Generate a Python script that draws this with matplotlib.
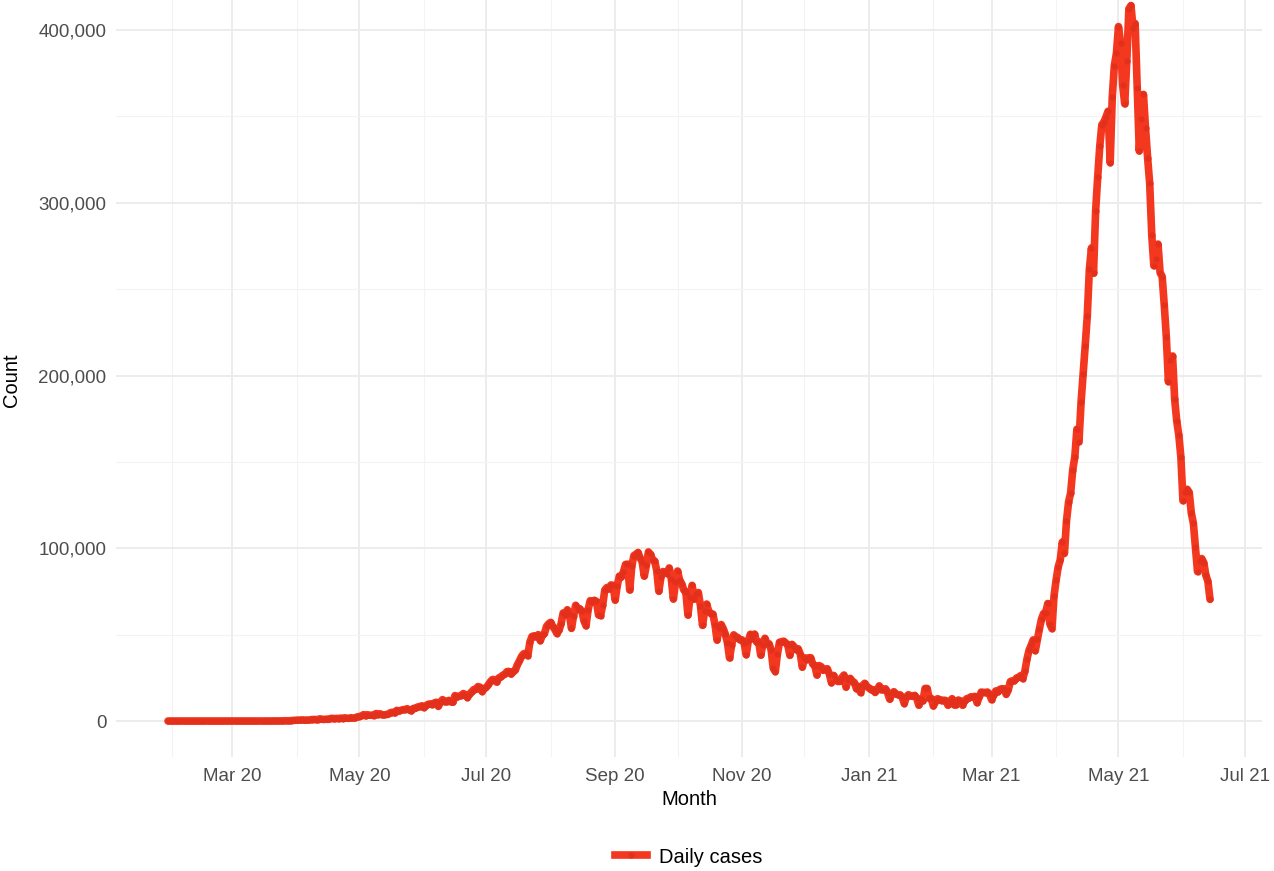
import matplotlib
matplotlib.use("Agg")
import matplotlib.pyplot as plt
import matplotlib.dates as mdates
from matplotlib.ticker import FuncFormatter, MultipleLocator
from matplotlib.lines import Line2D
import numpy as np
import pandas as pd

plt.rcParams["font.family"] = ["Liberation Sans", "DejaVu Sans"]

start_date = "2020-01-30"
jan20 = [1, 0]
feb20 = [0, 1, 1] + [0] * 26
mar20 = [0, 2, 1, 22, 2, 1, 3, 5, 9, 15, 8, 10, 10, 11, 10, 14, 19, 27, 58, 78,
         69, 94, 74, 86, 73, 153, 136, 120, 187, 309, 424]
apr20 = [486, 560, 579, 609, 484, 573, 565, 813, 871, 854, 758, 1243, 1031, 886, 1061,
         922, 1371, 1580, 1239, 1537, 1292, 1667, 1408, 1835, 1607, 1568, 1902, 1705, 1801, 2396]
may20 = [2564, 2952, 3656, 2971, 3602, 3344, 3339, 3175, 4311, 3592, 4163, 3607, 3524, 3763,
         3942, 4864, 5050, 4630, 6147, 5611, 6198, 6568, 6629, 7113, 6414, 5843, 7293, 7300,
         8105, 8336, 8782]
jun20 = [7761, 8821, 9633, 9889, 9471, 10438, 10864, 8442, 10956, 12375, 11128, 11157, 11929,
         11087, 10835, 14740, 13826, 14406, 14740, 15918, 15151, 13560, 15656, 16870, 18205,
         18255, 19906, 19620, 17066, 18653]
jul20 = [19428, 20903, 22721, 24018, 23942, 22500, 24880, 25571, 26506, 27114, 28606, 28701,
         27114, 28498, 29429, 32607, 34820, 37411, 38902, 39170, 37740, 45720, 48916, 49310,
         48661, 49981, 46484, 49632, 50600, 54750, 56282]
aug20 = [57118, 54735, 52972, 50629, 52509, 56282, 62538, 61537, 64399, 62064, 53601, 60963,
         66999, 64553, 65002, 63490, 57981, 55079, 64531, 69652, 68898, 69878, 69239, 61408,
         60975, 67151, 75760, 77266, 76472, 78761, 78512]
sep20 = [69921, 78357, 83883, 83341, 86432, 90632, 90802, 75809, 89706, 95735, 96551, 97570,
         94372, 92071, 83809, 90123, 97894, 96424, 93337, 92605, 86961, 75083, 83347, 86508,
         86052, 85362, 88600, 82170, 70589, 80472]
oct20 = [86821, 81484, 79476, 75829, 74442, 61267, 72049, 78524, 70496, 73272, 74383, 66732,
         55342, 63509, 67708, 63371, 62212, 61871, 55722, 46790, 54044, 55839, 53370, 50129,
         45149, 36470, 43893, 49881, 48648, 48268, 46963]
nov20 = [46964, 45231, 38310, 46254, 50210, 47638, 50356, 45674, 45903, 38073, 44281, 47905,
         44879, 44684, 41100, 30548, 28555, 38617, 45576, 45882, 46232, 45209, 44059, 37975,
         44376, 43082, 41322, 41810, 38772, 31118]
dec20 = [36604, 35551, 36595, 36652, 32981, 32080, 26567, 32080, 31521, 29398, 30006, 30254,
         27071, 22065, 26382, 24010, 22890, 22889, 25153, 26624, 19556, 23950, 24712, 23067,
         22273, 18732, 20021, 16432, 20549, 21821, 20035]
jan21 = [19079, 18177, 18179, 16505, 18088, 20346, 18139, 18222, 18645, 16311, 12584, 15968,
         16946, 15590, 15158, 15144, 13788, 10064, 13823, 15223, 14545, 14256, 14849, 13203,
         9102, 12689, 11666, 18855, 18855, 13083, 13052]
feb21 = [8635, 11039, 12899, 12408, 11713, 12059, 11831, 9110, 11067, 12923, 9309, 9309,
         12143, 11649, 9121, 11610, 12881, 13193, 13993, 13993, 14264, 10584, 13742, 16738,
         16577, 16488, 16752, 15510]
mar21 = [12286, 14989, 17407, 16838, 18327, 18711, 18599, 15388, 17921, 22854, 23285, 23285,
         24882, 25320, 26291, 24492, 28903, 35871, 40953, 43846, 46951, 40715, 47262, 53476,
         59118, 62258, 62714, 68020, 56211, 53480, 72330]
apr21 = [81466, 89129, 93249, 103558, 96982, 115736, 126789, 131968, 145384, 152879, 168912,
         161736, 184372, 200739, 217353, 234692, 261500, 273810, 259170, 295041, 314835,
         332730, 345147, 346786, 349691, 352991, 323144, 360960, 379257, 386452]
may21 = [401993, 392488, 368147, 357229, 382315, 412262, 414188, 401078, 403738, 366161,
         329942, 348421, 362727, 343144, 326098, 311170, 281386, 263533, 267334, 276070,
         259551, 257299, 240842, 222315, 196427, 208921, 211298, 186364, 173790, 165553, 152734]
jun21 = [127510, 132788, 134154, 132364, 120529, 114460, 100636, 86498, 92596, 94052, 91702,
         84332, 80834, 70421]

month_lists = [jan20, feb20, mar20, apr20, may20, jun20, jul20, aug20, sep20, oct20, nov20,
               dec20, jan21, feb21, mar21, apr21, may21, jun21]
month_lens = [2, 29, 31, 30, 31, 30, 31, 31, 30, 31, 30, 31, 31, 28, 31, 30, 31, 14]
for m, n in zip(month_lists, month_lens):
    assert len(m) == n, (len(m), n)

daily_cases = sum(month_lists, [])
dates = pd.date_range(start_date, periods=len(daily_cases), freq="D")

series_label = "Daily cases"
x_title = "Month"
y_title = "Count"

W, H = 1274, 871
fig = plt.figure(figsize=(W / 100, H / 100), dpi=100)
fig.patch.set_facecolor("white")

# Axes placement (pixel based)
left_px, right_px = 116, 1262
ymin, ymax = -20700, 434700
zero_px, per100k = 721, 172.75
bottom_px = zero_px - (ymin / 100000) * per100k
top_px = zero_px - (ymax / 100000) * per100k
ax = fig.add_axes([left_px / W, 1 - bottom_px / H, (right_px - left_px) / W,
                   (bottom_px - top_px) / H])

color = "#F4371F"
ax.plot(dates, daily_cases, color=color, lw=5.5, solid_joinstyle="round",
        solid_capstyle="round", zorder=3)
ax.plot(dates, daily_cases, linestyle="none", marker="o", ms=3.4, color="#E2301C",
        zorder=4)

xmin = pd.Timestamp("2020-01-05")
xmax = pd.Timestamp("2021-07-09")
ax.set_xlim(xmin, xmax)
ax.set_ylim(ymin, ymax)

ax.xaxis.set_major_locator(mdates.MonthLocator(bymonth=[3, 5, 7, 9, 11, 1]))
ax.xaxis.set_minor_locator(mdates.MonthLocator())
ax.xaxis.set_major_formatter(mdates.DateFormatter("%b %y"))
ax.yaxis.set_major_locator(MultipleLocator(100000))
ax.yaxis.set_minor_locator(MultipleLocator(50000))
ax.yaxis.set_major_formatter(FuncFormatter(lambda v, p: f"{int(v):,}"))

ax.grid(which="major", color="#EBEBEB", lw=1.3, zorder=0)
ax.grid(which="minor", color="#F3F3F3", lw=0.8, zorder=0)
ax.set_axisbelow(True)
for s in ax.spines.values():
    s.set_visible(False)
ax.tick_params(which="both", length=0)
ax.tick_params(axis="x", labelsize=13.5, labelcolor="#4D4D4D", pad=8)
ax.tick_params(axis="y", labelsize=13.5, labelcolor="#4D4D4D", pad=7)

fig.text((left_px + right_px) / 2 / W, 1 - 799 / H, x_title, ha="center", va="center",
         fontsize=14.5, color="black")
fig.text(11 / W, 1 - 380 / H, y_title, ha="center", va="center", rotation=90,
         fontsize=14.5, color="black")

handle = Line2D([], [], color=color, lw=5.5, marker="o", ms=3.4, markerfacecolor="#E2301C",
                markeredgecolor="#E2301C")
fig.legend([handle], [series_label], loc="center",
           bbox_to_anchor=((left_px + right_px) / 2 / W, 1 - 857 / H),
           frameon=False, fontsize=14.5, handlelength=1.6, handletextpad=0.6)

fig.savefig("out.png", dpi=100, facecolor="white")
